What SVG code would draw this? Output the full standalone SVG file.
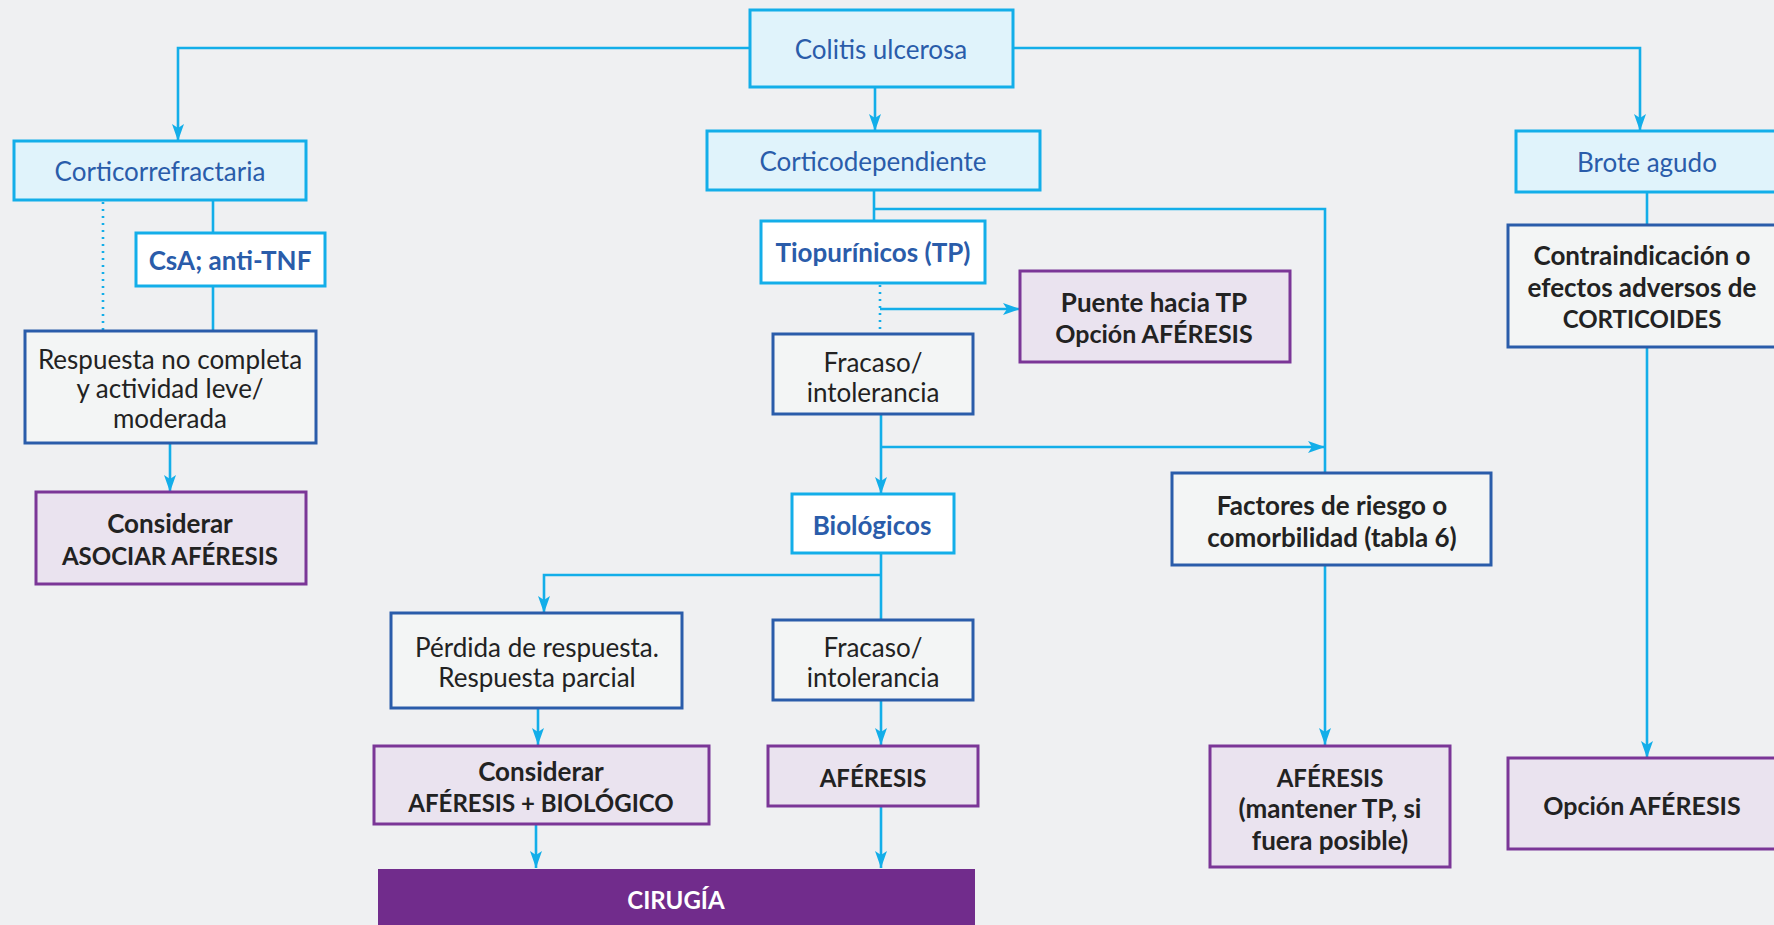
<svg xmlns="http://www.w3.org/2000/svg" width="1774" height="925" viewBox="0 0 1774 925">
<defs>
<marker id="ah" markerUnits="userSpaceOnUse" markerWidth="17" markerHeight="12" refX="17" refY="6" orient="auto" viewBox="0 0 17 12">
<path d="M0,0 L17,6 L0,12 L4,6 Z" fill="#13aee9"/>
</marker>
<style>
.bg{fill:#eff0f2}
.c{fill:none;stroke:#13aee9;stroke-width:2.6}
.d{fill:none;stroke:#13aee9;stroke-width:2.6;stroke-dasharray:2 5}
.lb{fill:#e0f3fb;stroke:#13aee9;stroke-width:3}
.wb{fill:#ffffff;stroke:#13aee9;stroke-width:3}
.gb{fill:#f3f5f5;stroke:#2a5caa;stroke-width:3}
.pb{fill:#eae3ef;stroke:#7b3697;stroke-width:3}
.sb{fill:#712c8c}
text{font-family:Lato,"Open Sans","Liberation Sans",sans-serif;font-size:26px;text-anchor:middle;dominant-baseline:central}
.bl{fill:#2a5caa}
.bb{fill:#2a5caa;font-weight:bold}
.k{fill:#222222}
.kb{fill:#222222;font-weight:bold}
.u{font-size:24px}
.u5{font-size:25px}
.w{fill:#ffffff;font-weight:bold}
</style>
</defs>
<rect class="bg" x="0" y="0" width="1774" height="925"/>
<g id="connectors">
<path class="c" d="M750,48 H178 V141" marker-end="url(#ah)"/>
<path class="c" d="M875,87 V131" marker-end="url(#ah)"/>
<path class="c" d="M1013,48 H1640 V131" marker-end="url(#ah)"/>
<path class="c" d="M213,200 V233"/>
<path class="c" d="M213,286 V331"/>
<path class="d" d="M103,202 V331"/>
<path class="c" d="M170,443 V492" marker-end="url(#ah)"/>
<path class="c" d="M874,190 V221"/>
<path class="c" d="M874,209 H1325 V473"/>
<path class="d" d="M880,285 V333"/>
<path class="c" d="M880,309 H1020" marker-end="url(#ah)"/>
<path class="c" d="M881,414 V494" marker-end="url(#ah)"/>
<path class="c" d="M881,447 H1325" marker-end="url(#ah)"/>
<path class="c" d="M881,553 V620"/>
<path class="c" d="M881,575 H544 V613" marker-end="url(#ah)"/>
<path class="c" d="M538,708 V745" marker-end="url(#ah)"/>
<path class="c" d="M881,700 V745" marker-end="url(#ah)"/>
<path class="c" d="M536,824 V868" marker-end="url(#ah)"/>
<path class="c" d="M881,806 V868" marker-end="url(#ah)"/>
<path class="c" d="M1325,565 V745" marker-end="url(#ah)"/>
<path class="c" d="M1647,192 V225"/>
<path class="c" d="M1647,347 V758" marker-end="url(#ah)"/>
</g>
<g id="colitis"><rect class="lb" x="750" y="10" width="263" height="77"/><text class="bl" x="881" y="49">Colitis ulcerosa</text></g>
<g id="corticorrefractaria"><rect class="lb" x="14" y="141" width="292" height="59"/><text class="bl" x="160" y="171">Corticorrefractaria</text></g>
<g id="corticodependiente"><rect class="lb" x="707" y="131" width="333" height="59"/><text class="bl" x="873" y="161">Corticodependiente</text></g>
<g id="brote"><rect class="lb" x="1516" y="131" width="280" height="61"/><text class="bl" x="1647" y="162">Brote agudo</text></g>
<g id="csa"><rect class="wb" x="136" y="233" width="189" height="53"/><text class="bb" x="230" y="260">CsA; anti-TNF</text></g>
<g id="tiopurinicos"><rect class="wb" x="761" y="221" width="224" height="62"/><text class="bb" x="873" y="252">Tiopurínicos (TP)</text></g>
<g id="respuesta"><rect class="gb" x="25" y="331" width="291" height="112"/><text class="k" x="170" y="359">Respuesta no completa</text><text class="k" x="170" y="388">y actividad leve/</text><text class="k" x="170" y="418">moderada</text></g>
<g id="puente"><rect class="pb" x="1020" y="271" width="270" height="91"/><text class="kb" x="1154" y="302">Puente hacia TP</text><text class="kb u5" x="1154" y="333">Opción AFÉRESIS</text></g>
<g id="contraindicacion"><rect class="gb" x="1508" y="225" width="290" height="122"/><text class="kb" x="1642" y="255">Contraindicación o</text><text class="kb" x="1642" y="287">efectos adversos de</text><text class="kb u" x="1642" y="318">CORTICOIDES</text></g>
<g id="fracaso1"><rect class="gb" x="773" y="334" width="200" height="80"/><text class="k" x="873" y="362">Fracaso/</text><text class="k" x="873" y="392">intolerancia</text></g>
<g id="asociar"><rect class="pb" x="36" y="492" width="270" height="92"/><text class="kb" x="170" y="523">Considerar</text><text class="kb u" x="170" y="555">ASOCIAR AFÉRESIS</text></g>
<g id="biologicos"><rect class="wb" x="792" y="494" width="162" height="59"/><text class="bb" x="872" y="525">Biológicos</text></g>
<g id="factores"><rect class="gb" x="1172" y="473" width="319" height="92"/><text class="kb" x="1332" y="505">Factores de riesgo o</text><text class="kb" x="1332" y="537">comorbilidad (tabla 6)</text></g>
<g id="perdida"><rect class="gb" x="391" y="613" width="291" height="95"/><text class="k" x="537" y="647">Pérdida de respuesta.</text><text class="k" x="537" y="677">Respuesta parcial</text></g>
<g id="fracaso2"><rect class="gb" x="773" y="620" width="200" height="80"/><text class="k" x="873" y="647">Fracaso/</text><text class="k" x="873" y="677">intolerancia</text></g>
<g id="considerar-biologico"><rect class="pb" x="374" y="746" width="335" height="78"/><text class="kb" x="541" y="771">Considerar</text><text class="kb u" x="541" y="802">AFÉRESIS + BIOLÓGICO</text></g>
<g id="aferesis"><rect class="pb" x="768" y="746" width="210" height="60"/><text class="kb u" x="873" y="777">AFÉRESIS</text></g>
<g id="aferesis-mantener"><rect class="pb" x="1210" y="746" width="240" height="121"/><text class="kb u" x="1330" y="777">AFÉRESIS</text><text class="kb" x="1330" y="808">(mantener TP, si</text><text class="kb" x="1330" y="840">fuera posible)</text></g>
<g id="opcion"><rect class="pb" x="1508" y="758" width="290" height="91"/><text class="kb u5" x="1642" y="805">Opción AFÉRESIS</text></g>
<g id="cirugia"><rect class="sb" x="378" y="869" width="597" height="70"/><text class="w u" x="676" y="899">CIRUGÍA</text></g>
</svg>
